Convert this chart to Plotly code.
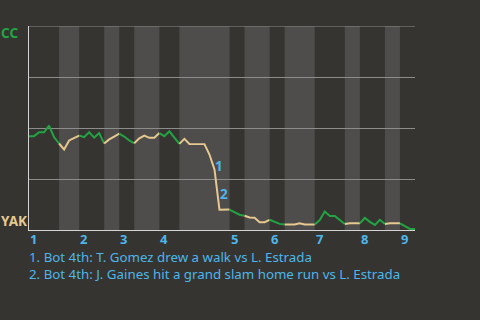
import plotly.graph_objects as go

# CC win probability (%) after each plate appearance (index = PA number)
cc_win_pct = [46.0, 46.0, 47.9, 47.9, 51.2, 45.5, 42.4, 39.5, 43.9, 45.3,
              46.3, 45.5, 47.9, 45.3, 47.5, 42.4, 44.4, 45.8, 47.2, 45.8,
              43.9, 42.5, 44.9, 46.3, 45.2, 45.2, 47.5, 46.0, 48.4, 45.3,
              42.2, 44.7, 42.2, 42.2, 42.2, 42.1, 37.0, 29.7, 9.9, 9.9,
              10.0, 8.6, 7.5, 7.0, 6.1, 6.0, 3.8, 3.8, 5.0, 3.8,
              3.0, 2.7, 2.7, 2.7, 3.3, 2.7, 2.7, 2.7, 4.9, 9.1,
              6.9, 6.9, 4.7, 2.9, 3.3, 3.3, 3.3, 5.9, 4.0, 2.5,
              5.0, 2.9, 3.3, 3.3, 3.3, 1.7, 0.5, 0.5]

# half-inning boundaries (PA index) : (start, end, half)
half_innings = [(0, 6, "top"), (6, 10, "bot"), (10, 15, "top"), (15, 18, "bot"),
                (18, 21, "top"), (21, 26, "bot"), (26, 30, "top"), (30, 40, "bot"),
                (40, 43, "top"), (43, 48, "bot"), (48, 51, "top"), (51, 57, "bot"),
                (57, 63, "top"), (63, 66, "bot"), (66, 71, "top"), (71, 74, "bot"),
                (74, 77, "top")]
inning_labels = ["1", "2", "3", "4", "5", "6", "7", "8", "9"]
grid_levels = [25, 50, 75, 100]

# key events: (label, PA index where event ends)
key_events = [("1", 37), ("2", 38)]
footnotes = ["1. Bot 4th: T. Gomez drew a walk vs L. Estrada",
             "2. Bot 4th: J. Gaines hit a grand slam home run vs L. Estrada"]

BG = "#363430"
BAND = "#4e4d4b"
GREEN = "#22a444"
TAN = "#e6c890"
BLUE = "#4db6ea"
GRID = "#8c8c8a"
FONT = "Noto Sans"

fig = go.Figure()
xs = list(range(len(cc_win_pct)))

shapes = []
for s, e, half in half_innings:
    color = GREEN if half == "top" else TAN
    fig.add_trace(go.Scatter(x=xs[s:e + 1], y=cc_win_pct[s:e + 1], mode="lines",
                             line=dict(color=color, width=2), hoverinfo="skip",
                             showlegend=False))
    if half == "bot":
        shapes.append(dict(type="rect", xref="x", yref="paper", x0=s, x1=e, y0=0, y1=1,
                           fillcolor=BAND, line=dict(width=0), layer="below"))

# top grid line (plotly skips the gridline at the range edge)
shapes.append(dict(type="line", xref="paper", yref="y", x0=0, x1=1,
                   y0=grid_levels[-1], y1=grid_levels[-1],
                   line=dict(color=GRID, width=1), layer="below"))

annotations = []
tops = [s for s, e, h in half_innings if h == "top"]
for lab, s in zip(inning_labels, tops):
    annotations.append(dict(text=f"<b>{lab}</b>", x=s, y=0, xref="x", yref="paper",
                            xanchor="left", yanchor="top", showarrow=False, borderpad=0,
                            font=dict(family=FONT, size=13, color=BLUE), xshift=0, yshift=1))

for lab, idx in key_events:
    annotations.append(dict(text=f"<b>{lab}</b>", x=idx - 0.5,
                            y=(cc_win_pct[idx - 1] + cc_win_pct[idx]) / 2,
                            xref="x", yref="y", showarrow=False,
                            xshift=7, yshift=-4,
                            font=dict(family=FONT, size=13.5, color=BLUE)))

for i, t in enumerate(footnotes):
    annotations.append(dict(text=t, x=0, y=0, xref="paper", yref="paper",
                            xanchor="left", yanchor="middle", showarrow=False, borderpad=0,
                            xshift=-1, yshift=-27 - 17 * i,
                            font=dict(family=FONT, size=13.3, color=BLUE)))

annotations.append(dict(text="<b>CC</b>", x=0, y=0.966, xref="paper", yref="paper",
                        xanchor="left", yanchor="middle", showarrow=False, xshift=-30,
                        font=dict(family=FONT, size=13.5, color=GREEN)))
annotations.append(dict(text="<b>YAK</b>", x=0, y=0.044, xref="paper", yref="paper",
                        xanchor="left", yanchor="middle", showarrow=False, xshift=-30,
                        font=dict(family=FONT, size=13.5, color=TAN)))

fig.update_layout(
    width=480, height=320,
    margin=dict(l=29, r=65, t=26, b=90),
    paper_bgcolor=BG, plot_bgcolor=BG,
    shapes=shapes, annotations=annotations,
    xaxis=dict(range=[0, len(cc_win_pct) - 1], showgrid=False, zeroline=False,
               showticklabels=False, ticks="", showline=True, linecolor="#d4d4d4",
               linewidth=1),
    yaxis=dict(range=[0, 100], tickvals=grid_levels, showgrid=True,
               gridcolor=GRID, gridwidth=1, zeroline=False, showticklabels=False,
               ticks="", showline=True, linecolor="#d4d4d4", linewidth=1),
)

fig.write_html("out.html")
